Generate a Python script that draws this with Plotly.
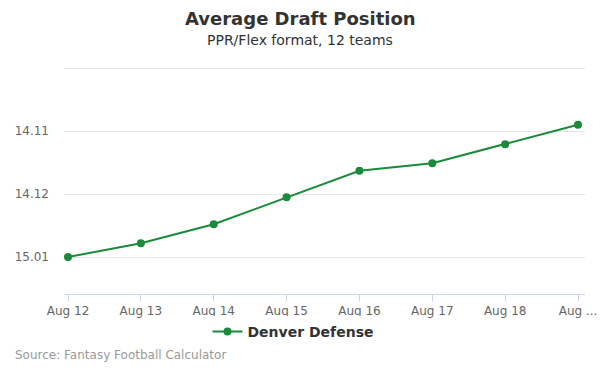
import plotly.graph_objects as go

categories = ["Aug 12", "Aug 13", "Aug 14", "Aug 15", "Aug 16", "Aug 17", "Aug 18", "Aug ..."]
adp_values = [169.0, 168.78, 168.48, 168.05, 167.63, 167.51, 167.21, 166.90]
tick_values = [166, 167, 168, 169]
tick_labels = ["", "14.11", "14.12", "15.01"]

GREEN = "#1b8a3b"
L, R, T, B = 64, 15, 66, 81
W, H = 600, 375
plot_w = W - L - R
plot_h = H - T - B


def px_x(x):
    return (x - L) / plot_w


def px_y(y):
    return (H - B - y) / plot_h


fig = go.Figure()
fig.add_trace(go.Scatter(
    x=list(range(len(categories))), y=adp_values, mode="lines+markers",
    name="Denver Defense",
    line=dict(color=GREEN, width=2),
    marker=dict(color=GREEN, size=8),
))

fig.update_layout(
    width=W, height=H,
    margin=dict(l=L, r=R, t=T, b=B, autoexpand=False),
    paper_bgcolor="white", plot_bgcolor="white",
    font=dict(family="DejaVu Sans", color="#666666", size=12),
    showlegend=True,
    legend=dict(orientation="h", x=px_x(293), xanchor="center", y=px_y(332), yanchor="middle",
                itemwidth=30,
                font=dict(size=14, color="#333333", family="DejaVu Sans", weight="bold")),
    xaxis=dict(
        tickmode="array", tickvals=list(range(len(categories))), ticktext=categories,
        range=[-0.055, 7.096], showgrid=False, zeroline=False,
        showline=True, linecolor="#ccd6eb", linewidth=1,
        ticks="outside", ticklen=6, tickcolor="#ccd6eb",
        tickfont=dict(size=12, color="#666666"),
    ),
    yaxis=dict(
        tickmode="array", tickvals=tick_values, ticktext=tick_labels,
        range=[169.587, 165.968], showgrid=True, gridcolor="#e6e6e6", gridwidth=1,
        zeroline=False, showline=False, ticks="", ticklabelstandoff=14,
        tickfont=dict(size=12, color="#666666"),
    ),
    annotations=[
        dict(text="<b>Average Draft Position</b>", x=px_x(300), xref="paper", y=px_y(19), yref="paper",
             xanchor="center", yanchor="middle", showarrow=False, font=dict(size=18, color="#333333")),
        dict(text="PPR/Flex format, 12 teams", x=px_x(300), xref="paper", y=px_y(40), yref="paper",
             xanchor="center", yanchor="middle", showarrow=False, font=dict(size=14, color="#333333")),
        dict(text="Source: Fantasy Football Calculator", x=px_x(13), xref="paper", y=px_y(355), yref="paper",
             xanchor="left", yanchor="middle", showarrow=False, font=dict(size=12, color="#999999")),
    ],
)

fig.write_html("out.html", config={"displayModeBar": False},
               post_script="document.body.style.margin='0';")
